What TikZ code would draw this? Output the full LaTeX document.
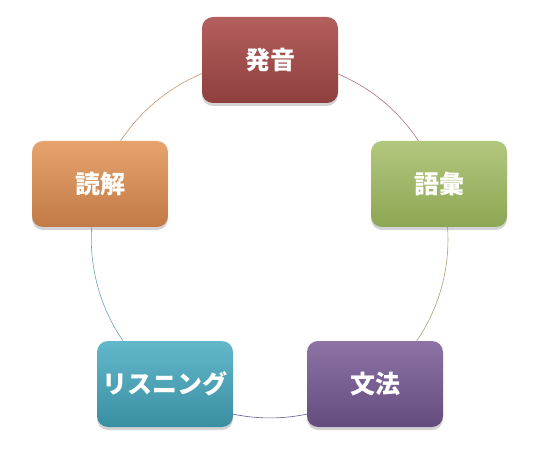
\documentclass[tikz,border=0pt]{standalone}
\usepackage{fontspec}
\newfontfamily\cjk{Noto Sans CJK JP}
\usetikzlibrary{shadows,backgrounds}
\definecolor{redT}{HTML}{B35F5D}\definecolor{redB}{HTML}{8E3F3E}
\definecolor{grnT}{HTML}{B2C77E}\definecolor{grnB}{HTML}{8DA653}
\definecolor{purT}{HTML}{8C73A4}\definecolor{purB}{HTML}{654C7F}
\definecolor{tealT}{HTML}{62B8CA}\definecolor{tealB}{HTML}{3A8EA2}
\definecolor{orT}{HTML}{E6A36D}\definecolor{orB}{HTML}{C27A46}
\tikzset{
  box/.style={rounded corners=11pt, minimum width=136pt, minimum height=86pt,
    inner sep=0pt, text=white, font=\cjk\bfseries\fontsize{25}{28}\selectfont,
    drop shadow={opacity=0.35, shadow xshift=0pt, shadow yshift=-3pt}},
  ring/.style={line width=0.6pt, bend left=36, looseness=0.94}
}
\begin{document}
\begin{tikzpicture}[x=1pt,y=-1pt]
\useasboundingbox (0,0) rectangle (533,457);
\node[box, top color=redT, bottom color=redB] (hatsuon) at (270,60) {発音};
\node[box, top color=grnT, bottom color=grnB] (goi) at (439,184) {語彙};
\node[box, top color=purT, bottom color=purB] (bunpo) at (375,384) {文法};
\node[box, top color=tealT, bottom color=tealB] (listen) at (165,384) {リスニング};
\node[box, top color=orT, bottom color=orB] (dokkai) at (100,184) {読解};
\begin{scope}[on background layer]
\draw[ring, draw={rgb,255:red,176;green,112;blue,128}] (hatsuon.center) to (goi.center);
\draw[ring, draw={rgb,255:red,170;green,160;blue,120}] (goi.center) to (bunpo.center);
\draw[ring, draw={rgb,255:red,100;green,90;blue,140}] (bunpo.center) to (listen.center);
\draw[ring, draw={rgb,255:red,110;green,160;blue,180}] (listen.center) to (dokkai.center);
\draw[ring, draw={rgb,255:red,200;green,150;blue,110}] (dokkai.center) to (hatsuon.center);
\end{scope}
\end{tikzpicture}
\end{document}
